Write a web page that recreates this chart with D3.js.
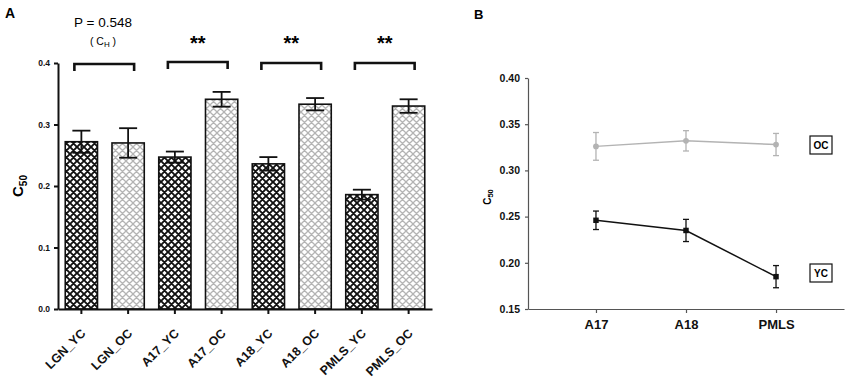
<!DOCTYPE html>
<html>
<head>
<meta charset="utf-8">
<script src="https://cdn.jsdelivr.net/npm/d3@7"></script>
<style>
  body { margin: 0; background: #fff; }
  svg { font-family: "Liberation Sans", Arial, sans-serif; }
</style>
</head>
<body>
<script>
// panel A data
var barNames = ['LGN_YC', 'LGN_OC', 'A17_YC', 'A17_OC', 'A18_YC', 'A18_OC', 'PMLS_YC', 'PMLS_OC'];
var barMeans = [0.272, 0.270, 0.247, 0.341, 0.236, 0.333, 0.186, 0.330];
var barErrs = [0.018, 0.024, 0.009, 0.012, 0.011, 0.010, 0.008, 0.011];
var barTicks = [0.0, 0.1, 0.2, 0.3, 0.4];
var pairs = [['LGN_YC', 'LGN_OC'], ['A17_YC', 'A17_OC'], ['A18_YC', 'A18_OC'], ['PMLS_YC', 'PMLS_OC']];
var pairLabels = ['', '**', '**', '**'];

// panel B data
var areas = ['A17', 'A18', 'PMLS'];
var ocMeans = [0.326, 0.332, 0.328];
var ocErrs = [0.015, 0.011, 0.012];
var ycMeans = [0.246, 0.235, 0.185];
var ycErrs = [0.010, 0.012, 0.012];
var lineTicks = [0.15, 0.20, 0.25, 0.30, 0.35, 0.40];

var w = 850, h = 388;
var font = '"Liberation Sans", Arial, sans-serif';

var svg = d3.select('body').append('svg')
    .attr('width', w)
    .attr('height', h);

var defs = svg.append('defs');

// crosshatch fill
function hatch(id, color, sw) {
    var s = 7;
    var p = defs.append('pattern')
        .attr('id', id)
        .attr('patternUnits', 'userSpaceOnUse')
        .attr('width', s)
        .attr('height', s);
    p.append('rect').attr('width', s).attr('height', s).attr('fill', '#fff');
    p.append('path')
        .attr('d', `M-1,-1L${s + 1},${s + 1}M${s + 1},-1L-1,${s + 1}M-1,${s - 1}L1,${s + 1}M${s - 1},-1L${s + 1},1M-1,1L1,-1M${s - 1},${s + 1}L${s + 1},${s - 1}`)
        .attr('stroke', color)
        .attr('stroke-width', sw);
}
hatch('dark', '#111', 1.9);
hatch('light', '#b4b4b4', 1.3);

// ---------- Panel A ----------
var xA = d3.scaleBand()
    .domain(barNames)
    .range([58, 432])
    .paddingInner(0.31)
    .paddingOuter(0.155);

var yA = d3.scaleLinear()
    .domain([0, 0.4])
    .range([309, 63]);

svg.append('text')
    .attr('x', 5).attr('y', 18)
    .attr('font-size', 14).attr('font-weight', 'bold')
    .text('A');

var gA = svg.append('g');

gA.selectAll('.bar')
    .data(barNames)
    .enter()
    .append('rect')
    .attr('class', 'bar')
    .attr('x', d => xA(d))
    .attr('width', xA.bandwidth())
    .attr('y', (d, i) => yA(barMeans[i]))
    .attr('height', (d, i) => yA(0) - yA(barMeans[i]))
    .attr('fill', d => d.endsWith('YC') ? 'url(#dark)' : 'url(#light)')
    .attr('stroke', '#111')
    .attr('stroke-width', 1.6);

var errA = gA.selectAll('.err')
    .data(barNames)
    .enter()
    .append('g')
    .attr('class', 'err')
    .attr('stroke', '#111')
    .attr('stroke-width', 1.8);
errA.append('line')
    .attr('x1', d => xA(d) + xA.bandwidth() / 2)
    .attr('x2', d => xA(d) + xA.bandwidth() / 2)
    .attr('y1', (d, i) => yA(barMeans[i] - barErrs[i]))
    .attr('y2', (d, i) => yA(barMeans[i] + barErrs[i]));
[-1, 1].forEach(s => {
    errA.append('line')
        .attr('x1', d => xA(d) + xA.bandwidth() / 2 - 9)
        .attr('x2', d => xA(d) + xA.bandwidth() / 2 + 9)
        .attr('y1', (d, i) => yA(barMeans[i] + s * barErrs[i]))
        .attr('y2', (d, i) => yA(barMeans[i] + s * barErrs[i]));
});

var axAy = gA.append('g')
    .attr('transform', 'translate(58,0)')
    .call(d3.axisLeft(yA).tickValues(barTicks).tickFormat(d3.format('.1f')).tickSize(4).tickSizeOuter(0));
var axAx = gA.append('g')
    .attr('transform', 'translate(0,309)')
    .call(d3.axisBottom(xA).tickSize(5).tickSizeOuter(0).tickFormat(''));
[axAy, axAx].forEach(a => {
    a.selectAll('path, line').attr('stroke', '#111').attr('stroke-width', 2);
});
axAy.selectAll('text')
    .attr('font-weight', 'bold').attr('fill', '#111')
    .attr('font-family', font)
    .attr('font-size', 8.5).attr('dx', -1);

// slanted category labels
gA.selectAll('.xlab')
    .data(barNames)
    .enter()
    .append('text')
    .attr('class', 'xlab')
    .attr('transform', d => `translate(${xA(d) + xA.bandwidth() / 2 + 5},334) rotate(-45)`)
    .attr('text-anchor', 'end')
    .attr('font-size', 12.5)
    .attr('font-weight', 'bold')
    .attr('fill', '#111')
    .text(d => d);

gA.append('text')
    .attr('transform', 'translate(23,186) rotate(-90)')
    .attr('text-anchor', 'middle')
    .attr('font-size', 15).attr('font-weight', 'bold')
    .text('C')
    .append('tspan').attr('font-size', 10).attr('dy', 4).text('50');

// significance brackets
var brY = [64, 62, 63, 63];
pairs.forEach((p, i) => {
    var x1 = xA(p[0]) + xA.bandwidth() / 2 - 7;
    var x2 = xA(p[1]) + xA.bandwidth() / 2 + 6;
    gA.append('path')
        .attr('d', `M${x1},${brY[i] + 7}V${brY[i]}H${x2}V${brY[i] + 7}`)
        .attr('fill', 'none')
        .attr('stroke', '#111')
        .attr('stroke-width', 2.6);
    if (pairLabels[i]) {
        gA.append('text')
            .attr('x', (x1 + x2) / 2)
            .attr('y', 50)
            .attr('text-anchor', 'middle')
            .attr('font-size', 20).attr('font-weight', 'bold')
            .text(pairLabels[i]);
    }
});
gA.append('text')
    .attr('x', 103).attr('y', 27)
    .attr('text-anchor', 'middle')
    .attr('font-size', 13.5)
    .text('P = 0.548');
var ch = gA.append('text')
    .attr('x', 103).attr('y', 45)
    .attr('text-anchor', 'middle')
    .attr('font-size', 10.5);
ch.append('tspan').text('( C');
ch.append('tspan').attr('font-size', 8).attr('dy', 2).text('H');
ch.append('tspan').attr('dy', -2).text(' )');

// ---------- Panel B ----------
var xB = d3.scalePoint()
    .domain(areas)
    .range([528, 844])
    .padding(0.755);
var yB = d3.scaleLinear()
    .domain([0.15, 0.40])
    .range([309, 78]);

svg.append('text')
    .attr('x', 474).attr('y', 19)
    .attr('font-size', 13).attr('font-weight', 'bold')
    .text('B');

var gB = svg.append('g');
var axBy = gB.append('g')
    .attr('transform', 'translate(528,0)')
    .call(d3.axisLeft(yB).tickValues(lineTicks).tickFormat(d3.format('.2f')).tickSize(3).tickSizeOuter(0));
var axBx = gB.append('g')
    .attr('transform', 'translate(0,309)')
    .call(d3.axisBottom(xB).tickSize(4).tickSizeOuter(0));
[axBy, axBx].forEach(a => {
    a.selectAll('path, line').attr('stroke', '#555').attr('stroke-width', 1.2);
    a.selectAll('text').attr('font-weight', 'bold').attr('fill', '#111')
        .attr('font-family', font);
});
axBy.selectAll('text').attr('font-size', 10.5).attr('dx', -2);
axBx.selectAll('text').attr('font-size', 13).attr('dy', '1.0em');

gB.append('text')
    .attr('transform', 'translate(491,197) rotate(-90)')
    .attr('text-anchor', 'middle')
    .attr('font-size', 10).attr('font-weight', 'bold')
    .text('C')
    .append('tspan').attr('font-size', 7.5).attr('dy', 2).text('50');

function series(means, errs, color, shape, label, ly) {
    var g = gB.append('g');
    g.append('path')
        .datum(areas)
        .attr('d', d3.line().x(d => xB(d)).y((d, i) => yB(means[i])))
        .attr('fill', 'none')
        .attr('stroke', color)
        .attr('stroke-width', 1.5);
    var e = g.selectAll('.e').data(areas).enter().append('g')
        .attr('stroke', color).attr('stroke-width', 1.3);
    e.append('line')
        .attr('x1', d => xB(d)).attr('x2', d => xB(d))
        .attr('y1', (d, i) => yB(means[i] - errs[i]))
        .attr('y2', (d, i) => yB(means[i] + errs[i]));
    [-1, 1].forEach(s => {
        e.append('line')
            .attr('x1', d => xB(d) - 3).attr('x2', d => xB(d) + 3)
            .attr('y1', (d, i) => yB(means[i] + s * errs[i]))
            .attr('y2', (d, i) => yB(means[i] + s * errs[i]));
    });
    g.selectAll('.m').data(areas).enter().append('path')
        .attr('transform', (d, i) => `translate(${xB(d)},${yB(means[i])})`)
        .attr('d', d3.symbol().type(shape).size(shape === d3.symbolSquare ? 30 : 26))
        .attr('fill', color);
    var lg = g.append('g').attr('transform', `translate(821,${ly})`);
    lg.append('rect')
        .attr('x', -11).attr('y', -9).attr('width', 22).attr('height', 18)
        .attr('fill', '#fff').attr('stroke', '#111').attr('stroke-width', 1.2);
    lg.append('text')
        .attr('text-anchor', 'middle').attr('dy', '0.36em')
        .attr('font-size', 10).attr('font-weight', 'bold')
        .text(label);
}
series(ocMeans, ocErrs, '#b3b3b3', d3.symbolCircle, 'OC', 145);
series(ycMeans, ycErrs, '#111', d3.symbolSquare, 'YC', 273);
</script>
</body>
</html>
